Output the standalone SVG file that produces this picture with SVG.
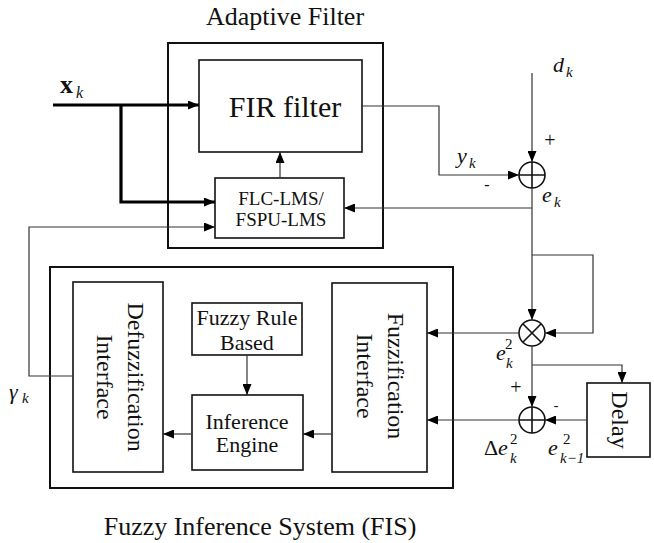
<svg xmlns="http://www.w3.org/2000/svg" width="654" height="543" viewBox="0 0 654 543">
  <style>
    .box { fill: none; stroke: #111; stroke-width: 1.6; }
    .outer { fill: none; stroke: #111; stroke-width: 2; }
    .wire { fill: none; stroke: #333; stroke-width: 1.2; }
    .thick { fill: none; stroke: #000; stroke-width: 3.2; }
    .t { font-family: "Liberation Serif", "Times New Roman", serif; fill: #111; }
    .v { font-family: "Liberation Serif", "Times New Roman", serif; font-style: italic; fill: #111; }
    .sym { fill: none; stroke: #111; stroke-width: 1.6; }
  </style>
  <defs>
    <marker id="arr" markerUnits="userSpaceOnUse" markerWidth="11" markerHeight="9" refX="11" refY="4.5" orient="auto">
      <path d="M0,0 L11,4.5 L0,9 z" fill="#000"/>
    </marker>
  </defs>

  <rect width="654" height="543" fill="#fff"/>

  <!-- Adaptive filter block -->
  <g id="adaptive-filter">
    <rect class="outer" x="168" y="43" width="215" height="205"/>
    <text class="t" x="285" y="25" font-size="26" text-anchor="middle">Adaptive Filter</text>
  </g>
  <g id="fir-filter">
    <rect class="box" x="199" y="60" width="163" height="92"/>
    <text class="t" x="285" y="117" font-size="30" text-anchor="middle">FIR filter</text>
  </g>
  <g id="flc-lms">
    <rect class="box" x="215" y="178" width="129" height="60"/>
    <text class="t" x="281" y="205" font-size="19" text-anchor="middle">FLC-LMS/</text>
    <text class="t" x="281" y="226" font-size="19" text-anchor="middle">FSPU-LMS</text>
  </g>

  <!-- Fuzzy inference system block -->
  <g id="fis">
    <rect class="outer" x="50" y="267" width="403" height="221"/>
    <text class="t" x="260" y="535" font-size="26" text-anchor="middle">Fuzzy Inference System (FIS)</text>
  </g>
  <g id="defuzzification">
    <rect class="box" x="73" y="282" width="90" height="190"/>
    <text class="t" font-size="24" text-anchor="middle" transform="translate(128,377) rotate(90)">Defuzzification</text>
    <text class="t" font-size="24" text-anchor="middle" transform="translate(97,377) rotate(90)">Interface</text>
  </g>
  <g id="fuzzy-rule">
    <rect class="box" x="192" y="303" width="110" height="52"/>
    <text class="t" x="247" y="325" font-size="22" text-anchor="middle">Fuzzy Rule</text>
    <text class="t" x="247" y="350" font-size="22" text-anchor="middle">Based</text>
  </g>
  <g id="inference-engine">
    <rect class="box" x="192" y="395" width="111" height="75"/>
    <text class="t" x="247" y="429" font-size="22" text-anchor="middle">Inference</text>
    <text class="t" x="247" y="452" font-size="22" text-anchor="middle">Engine</text>
  </g>
  <g id="fuzzification">
    <rect class="box" x="332" y="283" width="95" height="189"/>
    <text class="t" font-size="24" text-anchor="middle" transform="translate(388,376) rotate(90)">Fuzzification</text>
    <text class="t" font-size="24" text-anchor="middle" transform="translate(357,376) rotate(90)">Interface</text>
  </g>
  <g id="delay">
    <rect class="box" x="587" y="383" width="63" height="74"/>
    <text class="t" font-size="24" text-anchor="middle" transform="translate(612,420) rotate(90)">Delay</text>
  </g>

  <!-- Summing junctions and multiplier -->
  <g id="sum-error">
    <circle class="sym" cx="532" cy="175" r="13"/>
    <path class="sym" d="M519 175 H545 M532 162 V188"/>
  </g>
  <g id="square">
    <circle class="sym" cx="532" cy="333" r="13"/>
    <path class="sym" d="M522.8 323.8 L541.2 342.2 M541.2 323.8 L522.8 342.2"/>
  </g>
  <g id="sum-delta">
    <circle class="sym" cx="532" cy="420" r="13"/>
    <path class="sym" d="M519 420 H545 M532 407 V433"/>
  </g>

  <!-- Connectors -->
  <g id="connectors">
    <path class="thick" d="M53 105 H199" marker-end="url(#arr)"/>
    <path class="thick" d="M121 105 V202 H215" marker-end="url(#arr)"/>
    <path class="wire" d="M280 178 V152" marker-end="url(#arr)"/>
    <path class="wire" d="M362 106 H439 V175 H519" marker-end="url(#arr)"/>
    <path class="wire" d="M532 73 V162" marker-end="url(#arr)"/>
    <path class="wire" d="M532 208 H344" marker-end="url(#arr)"/>
    <path class="wire" d="M532 188 V320" marker-end="url(#arr)"/>
    <path class="wire" d="M532 255 H593 V333 H545" marker-end="url(#arr)"/>
    <path class="wire" d="M519 333 H427" marker-end="url(#arr)"/>
    <path class="wire" d="M532 346 V407" marker-end="url(#arr)"/>
    <path class="wire" d="M532 365 H622 V383" marker-end="url(#arr)"/>
    <path class="wire" d="M587 420 H545" marker-end="url(#arr)"/>
    <path class="wire" d="M519 420 H427" marker-end="url(#arr)"/>
    <path class="wire" d="M332 434 H303" marker-end="url(#arr)"/>
    <path class="wire" d="M192 434 H163" marker-end="url(#arr)"/>
    <path class="wire" d="M247 355 V395" marker-end="url(#arr)"/>
    <path class="wire" d="M73 376 H29 V227 H215" marker-end="url(#arr)"/>
  </g>

  <!-- Signal labels -->
  <g id="labels">
    <text class="t" x="60" y="93" font-size="26" font-weight="bold">x</text>
    <text class="v" x="76" y="98" font-size="16">k</text>

    <text class="v" x="457" y="163" font-size="22">y</text>
    <text class="v" x="469" y="168" font-size="15">k</text>

    <text class="v" x="553" y="72" font-size="22">d</text>
    <text class="v" x="566" y="77" font-size="15">k</text>

    <text class="v" x="542" y="202" font-size="22">e</text>
    <text class="v" x="554" y="207" font-size="15">k</text>

    <text class="t" x="550" y="147" font-size="20" text-anchor="middle">+</text>
    <text class="t" x="487" y="190" font-size="16" text-anchor="middle">-</text>

    <text class="v" x="496" y="360" font-size="22">e</text>
    <text class="t" x="505" y="349" font-size="15">2</text>
    <text class="v" x="506" y="368" font-size="15">k</text>

    <text class="t" x="516" y="394" font-size="20" text-anchor="middle">+</text>
    <text class="t" x="556" y="410" font-size="14" text-anchor="middle">-</text>

    <text class="t" x="484" y="455" font-size="22">Δ</text>
    <text class="v" x="498" y="455" font-size="22">e</text>
    <text class="t" x="510" y="444" font-size="15">2</text>
    <text class="v" x="510" y="463" font-size="15">k</text>

    <text class="v" x="548" y="455" font-size="22">e</text>
    <text class="t" x="563" y="444" font-size="15">2</text>
    <text class="v" x="560" y="463" font-size="15">k−1</text>

    <text class="v" x="9" y="399" font-size="22">γ</text>
    <text class="v" x="22" y="403" font-size="15">k</text>
  </g>
</svg>
